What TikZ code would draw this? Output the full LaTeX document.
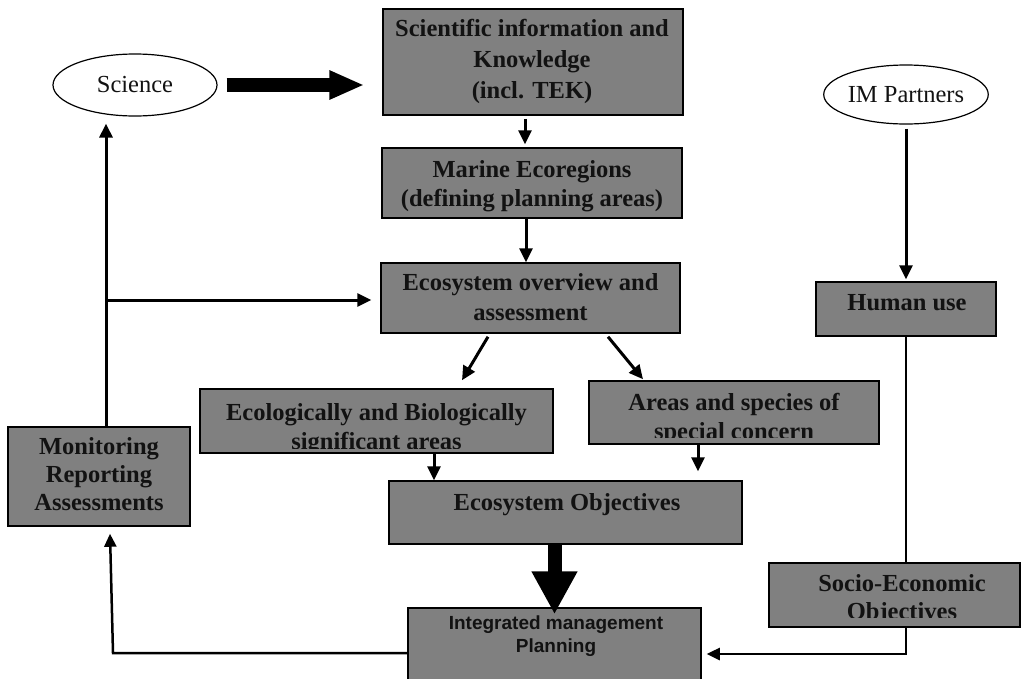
\documentclass[tikz,border=0pt]{standalone}
\usepackage{fontspec}
\setmainfont{Liberation Serif}
\setsansfont{Liberation Sans}
\usetikzlibrary{arrows.meta,shapes.geometric}
\definecolor{boxgray}{RGB}{128,128,128}
\definecolor{ink}{RGB}{18,18,18}
\begin{document}
\begin{tikzpicture}[x=1pt,y=-1pt,
  gbox/.style={draw=black,fill=boxgray,line width=1.5pt,rectangle,inner sep=0pt},
  ell/.style={draw=black,ellipse,line width=1.2pt,inner sep=0pt,text=ink,font=\fontsize{24.5}{29}\selectfont},
  lbl/.style={text=ink,align=center,inner sep=0pt,font=\fontsize{24.5}{29}\selectfont\bfseries},
  slbl/.style={text=ink,align=center,inner sep=0pt,font=\fontsize{19}{23}\selectfont\sffamily\bfseries},
  arr/.style={draw=black,line width=3pt,-{Triangle[length=14pt,width=13pt]}},
  thinarr/.style={draw=black,line width=2.5pt,-{Triangle[length=13pt,width=12pt]}},
  plain/.style={draw=black,line width=2pt},
  bigarrA/.style={draw=black,line width=14pt,-{Triangle[length=35pt,width=27pt]}},
  bigarrB/.style={draw=black,line width=14pt,-{Triangle[length=43pt,width=43pt]}}]
\useasboundingbox (0,0) rectangle (1021,678);
\clip (0,0) rectangle (1021,678);
\fill[white] (0,0) rectangle (1021,678);

% ellipses
\node[ell,minimum width=164pt,minimum height=62pt] (science) at (135,85) {Science};
\node[ell,minimum width=164pt,minimum height=59pt] (partners) at (906,94.5) {IM Partners};

% boxes
\node[gbox,minimum width=300pt,minimum height=106pt] (sci) at (533,62) {};
\node[gbox,minimum width=300pt,minimum height=70pt] (mar) at (532,183) {};
\node[gbox,minimum width=299pt,minimum height=70pt] (eov) at (530.5,298) {};
\node[gbox,minimum width=180pt,minimum height=54pt] (hum) at (906,309) {};
\node[gbox,minimum width=353pt,minimum height=64pt] (ebsa) at (376.5,421) {};
\node[gbox,minimum width=290pt,minimum height=63pt] (areas) at (734,412.5) {};
\node[gbox,minimum width=182pt,minimum height=99pt] (mon) at (99,476.5) {};
\node[gbox,minimum width=353pt,minimum height=63pt] (eoo) at (565.5,512.5) {};
\node[gbox,minimum width=251pt,minimum height=64pt] (soc) at (894.5,595) {};
\node[gbox,minimum width=293pt,minimum height=82pt] (imp) at (554.5,649) {};

% texts
\node[lbl,font=\fontsize{24.5}{31}\selectfont\bfseries] (sci-t) at (532,61) {Scientific information and\\Knowledge\\(incl. TEK)};
\node[lbl] (mar-t) at (532,186.5) {Marine Ecoregions\\(defining planning areas)};
\node[lbl,font=\fontsize{24.5}{30}\selectfont\bfseries] (eov-t) at (530.5,297.5) {Ecosystem overview and\\assessment};
\node[lbl] (hum-t) at (907,302.5) {Human use};
\node[lbl,font=\fontsize{24.5}{28}\selectfont\bfseries] (mon-t) at (99,474.5) {Monitoring\\Reporting\\Assessments};
\node[lbl] (eoo-t) at (567,505) {Ecosystem Objectives};
\begin{scope}
  \clip (ebsa.north west) rectangle ([yshift=5pt]ebsa.south east);
  \node[lbl] (ebsa-t) at (376.5,429.5) {Ecologically and Biologically\\significant areas};
\end{scope}
\begin{scope}
  \clip (areas.north west) rectangle ([yshift=7pt]areas.south east);
  \node[lbl] (areas-t) at (734,418.5) {Areas and species of\\special concern};
\end{scope}
\begin{scope}
  \clip (soc.north west) rectangle ([yshift=10pt]soc.south east);
  \node[lbl,font=\fontsize{24.5}{28}\selectfont\bfseries] (soc-t) at (902,600) {Socio-Economic\\Objectives};
\end{scope}
\node[slbl] (imp-t) at (556,636.5) {Integrated management\\Planning};

% connectors
\draw[bigarrA,shorten <=9pt,shorten >=18pt] (science.east) -- (science.east -| sci.west);
\draw[arr,shorten <=3pt,shorten >=3pt] ([xshift=-8pt]sci.south) -- ([xshift=-7pt]mar.north);
\draw[arr] ([xshift=-6pt]mar.south) -- ([xshift=-4.5pt]eov.north);
\draw[arr] ([xshift=-42.5pt,yshift=-3pt]eov.south) -- ([xshift=85.5pt,yshift=8pt]ebsa.north);
\draw[arr] ([xshift=77.5pt,yshift=-3pt]eov.south) -- ([xshift=-91pt,yshift=1pt]areas.north);
\draw[arr] ([xshift=57.5pt]ebsa.south) -- ([xshift=-131.5pt]eoo.north);
\draw[arr] ([xshift=-36pt]areas.south) -- ([xshift=132.5pt,yshift=9pt]eoo.north);
\draw[bigarrB] (eoo.south -| imp.north) -- ([yshift=-7pt]imp.north);
\draw[arr,shorten <=4pt,shorten >=2pt] (partners.south) -- (hum.north);
\draw[plain] (hum.south) -- (hum.south |- soc.north);
\draw[thinarr,shorten >=5pt] (hum.south |- soc.south) |- ([yshift=-5pt]imp.east);
\coordinate (corner) at (113,653);
\draw[thinarr] ([yshift=-4pt]imp.west) -- (corner) -- ([xshift=11pt,yshift=-7pt]mon.south);
\draw[arr] ([xshift=7pt]mon.north) -- ([xshift=-29pt,yshift=-7pt]science.south);
\coordinate (branch) at (106,300);
\draw[arr,shorten >=9pt] (branch) -- ([yshift=-2pt]eov.west);
\end{tikzpicture}
\end{document}
